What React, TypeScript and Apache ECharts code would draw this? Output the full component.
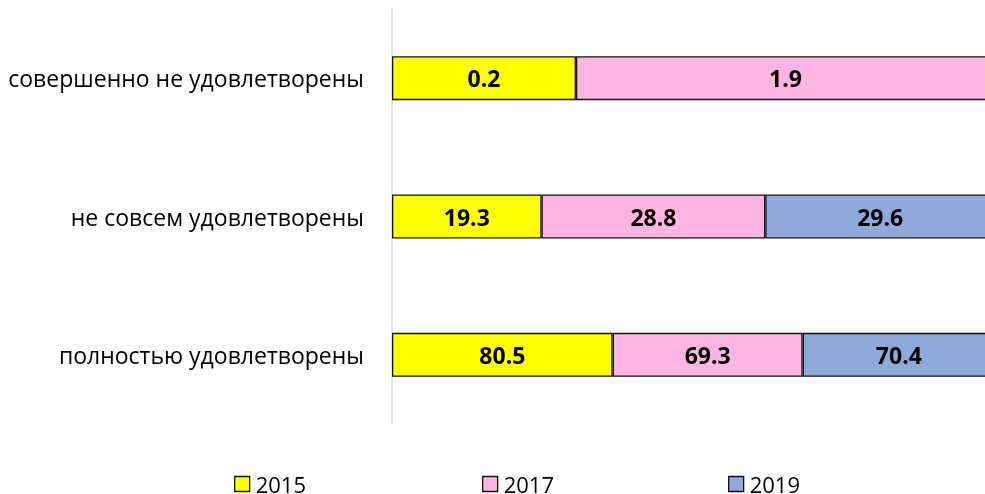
import React, { useEffect, useRef } from "react";
import * as echarts from "echarts";

// Categories, top to bottom
const categories = [
  "совершенно не удовлетворены",
  "не совсем удовлетворены",
  "полностью удовлетворены",
];

const years = ["2015", "2017", "2019"];

// Displayed values (labels) per year, top to bottom
const labels2015 = ["0.2", "19.3", "80.5"];
const labels2017 = ["1.9", "28.8", "69.3"];
const labels2019 = ["", "29.6", "70.4"];

// Bar lengths as share of each row (%)
const share2015 = [30.5, 24.8, 36.6];
const share2017 = [69.5, 37.1, 31.5];
const share2019 = [null, 38.1, 31.9];

const colors = ["#FFFF00", "#FFB5E2", "#8EA9DB"];

const FONT = '"Open Sans", "DejaVu Sans", sans-serif';

export default function App() {
  const ref = useRef<HTMLDivElement>(null);

  useEffect(() => {
    if (!ref.current) return;
    const chart = echarts.init(ref.current, null, { renderer: "svg" });
    const shares = [share2015, share2017, share2019];
    const labelSets = [labels2015, labels2017, labels2019];

    const series = years.map((y, i) => ({
      name: y,
      type: "bar",
      stack: "total",
      barWidth: 44,
      clip: false,
      itemStyle: {
        color: colors[i],
        borderColor: "#111",
        borderWidth: 1.3,
      },
      label: {
        show: true,
        position: "inside",
        fontFamily: FONT,
        fontSize: 23,
        fontWeight: "bold",
        color: "#000",
        formatter: (p: any) => labelSets[i][p.dataIndex],
      },
      data: shares[i].map((v) => (v === null ? "-" : v)),
    }));

    const legendLefts = [234, 482, 728];

    chart.setOption({
      animation: false,
      color: colors,
      grid: { left: 392, right: 0, top: 9, bottom: 70, containLabel: false },
      xAxis: {
        type: "value",
        min: 0,
        max: 98.34,
        show: false,
      },
      yAxis: {
        type: "category",
        inverse: true,
        data: categories,
        axisLine: { show: true, lineStyle: { color: "#D9D9D9", width: 1.5 } },
        axisTick: { show: false },
        splitLine: { show: false },
        axisLabel: {
          margin: 28,
          fontFamily: FONT,
          fontSize: 23,
          color: "#000",
        },
      },
      legend: years.map((y, i) => ({
        data: [y],
        left: legendLefts[i],
        top: 473,
        padding: 0,
        icon: "rect",
        itemWidth: 15,
        itemHeight: 15,
        itemGap: 6,
        textStyle: {
          fontFamily: FONT,
          fontSize: 22,
          lineHeight: 20,
          color: "#000",
          padding: [0, 0, 0, 1],
        },
        itemStyle: { borderColor: "#111", borderWidth: 1.3 },
        selectedMode: false,
      })),
      series,
    });

    return () => chart.dispose();
  }, []);

  return (
    <div
      ref={ref}
      style={{ position: "fixed", left: 0, top: 0, width: 985, height: 494 }}
    />
  );
}
